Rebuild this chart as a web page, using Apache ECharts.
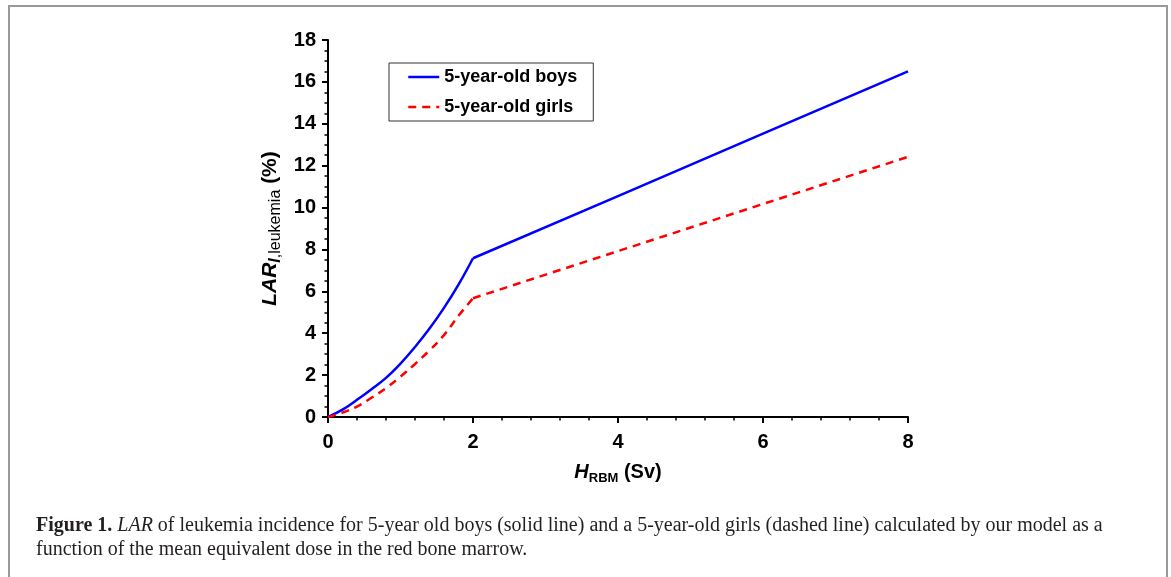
<!DOCTYPE html>
<html><head><meta charset="utf-8">
<script src="https://cdn.jsdelivr.net/npm/echarts@6/dist/echarts.min.js"></script>
<style>
html,body{margin:0;padding:0;background:#fff;width:1171px;height:577px;overflow:hidden;}
#frame{position:absolute;left:8px;top:5px;width:1160px;height:620px;border:2px solid #999;border-bottom:none;box-sizing:border-box;}
#chart{position:absolute;left:0;top:0;width:1171px;height:577px;}
#caption{position:absolute;left:36px;top:512px;white-space:nowrap;font-family:"Liberation Serif",serif;font-size:20px;line-height:24px;color:#231f20;}
</style></head><body>
<div id="frame"></div>
<div id="chart"></div>
<div id="caption"><b>Figure 1.</b> <i>LAR</i> of leukemia incidence for 5-year old boys (solid line) and a 5-year-old girls (dashed line) calculated by our model as a<br>function of the mean equivalent dose in the red bone marrow.</div>
<script>
// Data (dose in Sv, LAR in %)
var doseSv   = [0, 0.2, 0.4, 0.6, 0.8, 1.0, 1.2, 1.4, 1.6, 1.8, 2.0, 4, 6, 8];
var boysLAR  = [0, 0.35, 0.82, 1.33, 1.87, 2.55, 3.34, 4.22, 5.21, 6.32, 7.58, 10.55, 13.53, 16.5];
var girlsLAR = [0, 0.21, 0.50, 0.92, 1.38, 1.93, 2.53, 3.18, 3.91, 4.83, 5.67, 7.92, 10.17, 12.42];
var kneeIndex = 10; // dose = 2 Sv: curved part before, straight part after
var seriesNames = ['5-year-old boys', '5-year-old girls'];
var xTicks = [0, 2, 4, 6, 8];
var yTicks = [0, 2, 4, 6, 8, 10, 12, 14, 16, 18];

function pairs(xs, ys) { return xs.map(function (x, i) { return [x, ys[i]]; }); }

var FONT = '"Liberation Sans", Arial, sans-serif';
var chart = echarts.init(document.getElementById('chart'), null, {renderer: 'canvas'});

function axisCommon(minorSplit) {
  return {
    type: 'value',
    axisLine: {show: true, onZero: false, lineStyle: {color: '#000', width: 2}},
    axisTick: {show: true, inside: false, length: 6, lineStyle: {color: '#000', width: 2}},
    minorTick: {show: true, splitNumber: minorSplit, length: 3.5, lineStyle: {color: '#000', width: 1.5}},
    splitLine: {show: false},
    minorSplitLine: {show: false},
    axisLabel: {fontFamily: FONT, fontWeight: 'bold', fontSize: 20, color: '#000'}
  };
}

var xAxis = axisCommon(5);
xAxis.min = xTicks[0]; xAxis.max = xTicks[xTicks.length - 1]; xAxis.interval = xTicks[1] - xTicks[0];
xAxis.axisLabel.margin = 15;
xAxis.name = '{i|H}{s|RBM}{n| (Sv)}';
xAxis.nameLocation = 'middle';
xAxis.nameGap = 42;
xAxis.nameTextStyle = {
  rich: {
    i: {fontFamily: FONT, fontWeight: 'bold', fontStyle: 'italic', fontSize: 20, color: '#000', lineHeight: 26, verticalAlign: 'middle'},
    s: {fontFamily: FONT, fontWeight: 'bold', fontSize: 13, color: '#000', lineHeight: 13, verticalAlign: 'bottom'},
    n: {fontFamily: FONT, fontWeight: 'bold', fontSize: 20, color: '#000', lineHeight: 26, verticalAlign: 'middle'}
  }
};

var yAxis = axisCommon(4);
yAxis.min = yTicks[0]; yAxis.max = yTicks[yTicks.length - 1]; yAxis.interval = yTicks[1] - yTicks[0];
yAxis.axisLabel.margin = 12;
yAxis.name = '{i|LAR}{si|l}{s|,leukemia}{n| (%)}';
yAxis.nameLocation = 'middle';
yAxis.nameRotate = 90;
yAxis.nameGap = 44;
yAxis.nameTextStyle = {
  rich: {
    i: {fontFamily: FONT, fontWeight: 'bold', fontStyle: 'italic', fontSize: 21, color: '#000', lineHeight: 28, verticalAlign: 'middle'},
    si: {fontFamily: FONT, fontWeight: 'bold', fontStyle: 'italic', fontSize: 16, color: '#000', lineHeight: 16, verticalAlign: 'bottom'},
    s: {fontFamily: FONT, fontSize: 16, color: '#000', lineHeight: 16, verticalAlign: 'bottom'},
    n: {fontFamily: FONT, fontWeight: 'bold', fontSize: 21, color: '#000', lineHeight: 28, verticalAlign: 'middle'}
  }
};

var curvePart = {boys: pairs(doseSv, boysLAR).slice(0, kneeIndex + 1), girls: pairs(doseSv, girlsLAR).slice(0, kneeIndex + 1)};
var linePart  = {boys: pairs(doseSv, boysLAR).slice(kneeIndex), girls: pairs(doseSv, girlsLAR).slice(kneeIndex)};

var boysStyle  = {color: '#0000ff', width: 2.5};
var girlsStyle = {color: '#ff0000', width: 2.5, type: [8, 6]};

chart.setOption({
  animation: false,
  backgroundColor: 'transparent',
  grid: {left: 328, top: 40, right: 263, bottom: 160, containLabel: false, outerBoundsMode: 'none'},
  xAxis: xAxis,
  yAxis: yAxis,
  legend: {
    orient: 'vertical', left: 389, top: 63,
    padding: [5, 16, 5, 18], itemGap: 12, itemWidth: 31, itemHeight: 14,
    borderColor: '#333', borderWidth: 1, backgroundColor: '#fff',
    itemStyle: {color: 'transparent', borderColor: 'transparent', borderWidth: 0, opacity: 0},
    lineStyle: {width: 2.5},
    textStyle: {fontFamily: FONT, fontWeight: 'bold', fontSize: 18, color: '#000', lineHeight: 18},
    data: seriesNames
  },
  series: [
    {name: seriesNames[0], type: 'line', data: curvePart.boys, symbol: 'none', smooth: 0.4,
     lineStyle: boysStyle, itemStyle: {color: '#0000ff'}},
    {name: seriesNames[1], type: 'line', data: curvePart.girls, symbol: 'none', smooth: 0.4,
     lineStyle: girlsStyle, itemStyle: {color: '#ff0000'}},
    {name: seriesNames[0], type: 'line', data: linePart.boys, symbol: 'none', smooth: false,
     lineStyle: boysStyle, itemStyle: {color: '#0000ff'}},
    {name: seriesNames[1], type: 'line', data: linePart.girls, symbol: 'none', smooth: false,
     lineStyle: girlsStyle, itemStyle: {color: '#ff0000'}}
  ]
});
</script>
</body></html>
